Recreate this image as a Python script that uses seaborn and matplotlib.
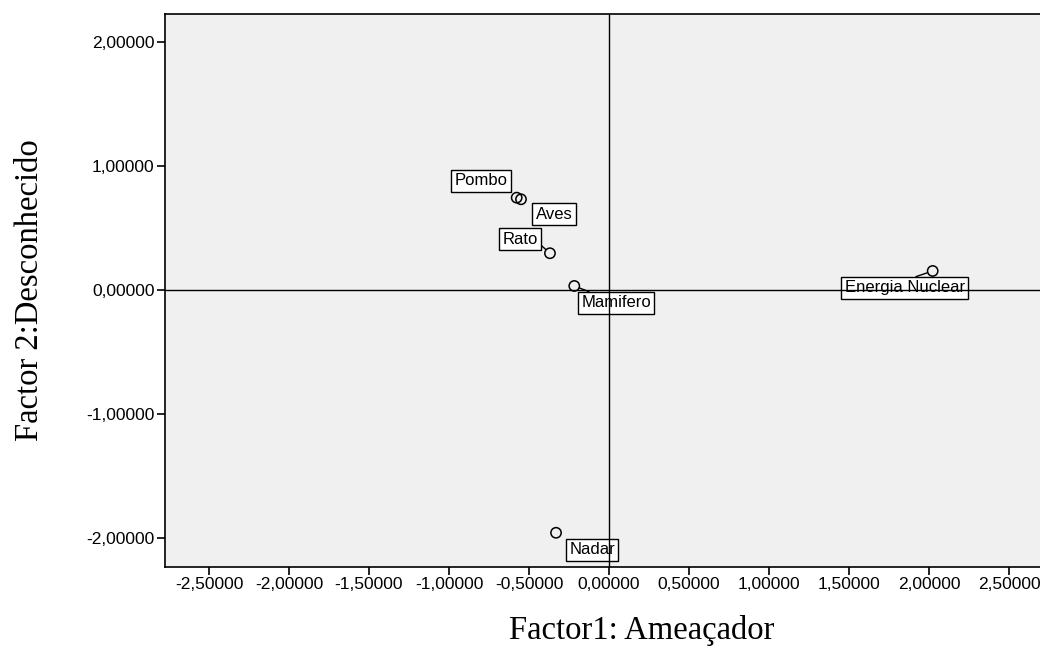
import matplotlib
matplotlib.use("Agg")
import matplotlib.pyplot as plt
from matplotlib.ticker import FuncFormatter, FixedLocator
import seaborn as sns
import pandas as pd

labels = ["Pombo", "Aves", "Rato", "Mamifero", "Energia Nuclear", "Nadar"]
factor1 = [-0.577, -0.550, -0.369, -0.217, 2.023, -0.331]
factor2 = [0.742, 0.729, 0.294, 0.030, 0.151, -1.960]
x_ticks = [-2.5, -2.0, -1.5, -1.0, -0.5, 0.0, 0.5, 1.0, 1.5, 2.0, 2.5]
y_ticks = [-2.0, -1.0, 0.0, 1.0, 2.0]

# label offsets in pixels and leader-line settings (layout only)
offsets = [(-36, 17), (33, -15), (-30, 14), (42, -17), (-28, -17), (36, -17)]
leaders = [False, False, True, True, True, False]
relposs = [(0.5, 0.5), (0.5, 0.5), (1.0, 0.3), (0.25, 1.0), (0.5, 1.0), (0.5, 0.5)]

df = pd.DataFrame({"f1": factor1, "f2": factor2, "label": labels})

sns.set_theme(style="white")
plt.rcParams['font.family'] = ['Liberation Sans', 'DejaVu Sans']
plt.rcParams['text.color'] = 'black'
plt.rcParams['xtick.color'] = 'black'
plt.rcParams['ytick.color'] = 'black'

fig = plt.figure(figsize=(10.4, 6.49), dpi=100)
ax = fig.add_axes([165/1040, (649-567)/649, 888/1040, 553.5/649])
ax.set_facecolor("#F0F0F0")

# reference lines drawn over the label boxes, as in the original
ax.axhline(0, color="black", lw=1.0, zorder=5)
ax.axvline(0, color="black", lw=1.0, zorder=5)

sns.scatterplot(data=df, x="f1", y="f2", ax=ax, marker="o", s=55,
                facecolors="none", edgecolor="black", linewidth=1.1, zorder=3)

for (x, y, lab, off, ld, rp) in zip(factor1, factor2, labels, offsets, leaders, relposs):
    ap = dict(arrowstyle="-", color="black", lw=1.0, shrinkA=0, shrinkB=4,
              relpos=rp) if ld else None
    ax.annotate(lab, xy=(x, y), xytext=(off[0] * 0.72, off[1] * 0.72),
                textcoords="offset points", ha="center", va="center",
                fontsize=12, color="black",
                bbox=dict(boxstyle="square,pad=0.2", fc="white", ec="black", lw=1.0),
                arrowprops=ap, zorder=4)

ax.set_xlim(-2.775, 2.775)
ax.set_ylim(-2.236, 2.227)
ax.xaxis.set_major_locator(FixedLocator(x_ticks))
ax.yaxis.set_major_locator(FixedLocator(y_ticks))
fmt = FuncFormatter(lambda v, p: f"{v:.5f}".replace(".", ",").replace("-0,00000", "0,00000"))
ax.xaxis.set_major_formatter(fmt)
ax.yaxis.set_major_formatter(fmt)
ax.tick_params(axis="both", which="major", direction="out", length=6, width=1.2,
               color="black", labelcolor="black", labelsize=12.5, pad=1.5,
               bottom=True, left=True)
for s in ax.spines.values():
    s.set_color("black")
    s.set_linewidth(1.2)

ax.set_xlabel("")
ax.set_ylabel("")
fig.text(642/1040, 1 - 630/649, "Factor1: Ameaçador", ha="center", va="center",
         fontsize=23.5, family="Liberation Serif", color="black")
fig.text(30/1040, 1 - 290/649, "Factor 2:Desconhecido", ha="center", va="center",
         fontsize=23.5, family="Liberation Serif", rotation=90, color="black")

fig.savefig("out.png", dpi=100)
